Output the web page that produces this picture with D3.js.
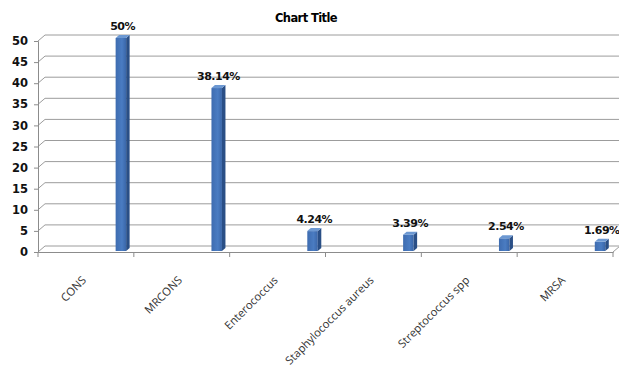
<!DOCTYPE html>
<html>
<head>
<meta charset="utf-8">
<script src="https://cdn.jsdelivr.net/npm/d3@7"></script>
<style>
  body { margin: 0; background: #fff; }
  svg { display: block; }
</style>
</head>
<body>
<div id="chart"></div>
<script>
const categories = ["CONS", "MRCONS", "Enterococcus", "Staphylococcus aureus", "Streptococcus spp", "MRSA"];
const values = [50, 38.14, 4.24, 3.39, 2.54, 1.69];
const valueLabels = ["50%", "38.14%", "4.24%", "3.39%", "2.54%", "1.69%"];
const yTicks = [0, 5, 10, 15, 20, 25, 30, 35, 40, 45, 50];

const W = 619, H = 372;
const depthX = 7, depthY = -6;   // 3d depth of the back wall

const svg = d3.select("#chart")
  .append("svg")
  .attr("width", W)
  .attr("height", H);

const x = d3.scaleBand()
  .domain(categories)
  .range([38, 613])
  .padding(0);

const y = d3.scaleLinear()
  .domain([0, 50])
  .range([252, 41]);

// title
svg.append("text")
  .attr("x", 306)
  .attr("y", 22)
  .attr("text-anchor", "middle")
  .style("font-family", "DejaVu Sans")
  .style("font-weight", "bold")
  .style("font-size", "11.5px")
  .style("letter-spacing", "-0.6px")
  .text("Chart Title");

// gridlines: side wall diagonal + back wall horizontal
const grid = svg.append("g")
  .attr("fill", "none")
  .attr("stroke", "#9c9c9c")
  .attr("stroke-width", 1);

grid.selectAll("path")
  .data(yTicks)
  .enter()
  .append("path")
  .attr("d", d => `M${x.range()[0]},${y(d)}L${x.range()[0] + depthX},${y(d) + depthY}L${W},${y(d) + depthY}`);

// floor right diagonal
grid.append("path")
  .attr("d", `M${x.range()[1]},${y(0)}L${x.range()[1] + depthX},${y(0) + depthY}`);

// y axis
const yAxis = svg.append("g")
  .attr("transform", `translate(${x.range()[0]},0)`)
  .call(d3.axisLeft(y).tickValues(yTicks).tickSize(4).tickPadding(6))
  .call(g => g.selectAll("path, line").attr("stroke", "#8c8c8c"));

yAxis.selectAll(".tick text")
  .style("font-family", "DejaVu Sans")
  .style("font-weight", "bold")
  .style("font-size", "11.5px")
  .style("fill", "#111");

// x axis
const xAxis = svg.append("g")
  .attr("transform", `translate(0,${y(0)})`)
  .call(d3.axisBottom(x).tickSize(0).tickFormat(""))
  .call(g => g.select(".domain").attr("stroke", "#8c8c8c"));

xAxis.selectAll(".bound")
  .data(d3.range(categories.length + 1))
  .enter()
  .append("line")
  .attr("x1", i => x.range()[0] + i * x.bandwidth())
  .attr("x2", i => x.range()[0] + i * x.bandwidth())
  .attr("y1", 0)
  .attr("y2", 5)
  .attr("stroke", "#8c8c8c");

svg.append("g")
  .selectAll("text")
  .data(categories)
  .enter()
  .append("text")
  .attr("transform", d => `translate(${x(d) + x.bandwidth() / 2 + 1},${y(0) + 29}) rotate(-45)`)
  .attr("text-anchor", "end")
  .style("font-family", "Open Sans")
  .style("font-size", "11.2px")
  .style("fill", "#333")
  .text(d => d);

// bars (3d columns)
const barW = 10.5, sideW = 3.5, capH = 3;
const barLeft = d => x(d) + x.bandwidth() * 0.81;
const data = categories.map((c, i) => ({ c, v: values[i], label: valueLabels[i] }));

const defs = svg.append("defs");
const grad = defs.append("linearGradient").attr("id", "front");
grad.append("stop").attr("offset", "0%").attr("stop-color", "#3e6cb0");
grad.append("stop").attr("offset", "60%").attr("stop-color", "#4a7cc2");
grad.append("stop").attr("offset", "100%").attr("stop-color", "#3a66a8");

const bars = svg.append("g")
  .selectAll("g")
  .data(data)
  .enter()
  .append("g");

bars.append("rect")
  .attr("x", d => barLeft(d.c))
  .attr("y", d => y(d.v) - 3)
  .attr("width", barW)
  .attr("height", d => y(0) - 1 - (y(d.v) - 3))
  .attr("fill", "url(#front)");

bars.append("path")
  .attr("d", d => {
    const x0 = barLeft(d.c) + barW, t = y(d.v) - 3, b = y(0) - 1;
    return `M${x0},${t}L${x0 + sideW},${t - capH}L${x0 + sideW},${b - capH}L${x0},${b}Z`;
  })
  .attr("fill", "#2a4f86");

bars.append("path")
  .attr("d", d => {
    const x0 = barLeft(d.c), t = y(d.v) - 3;
    return `M${x0},${t}L${x0 + sideW},${t - capH}L${x0 + barW + sideW},${t - capH}L${x0 + barW},${t}Z`;
  })
  .attr("fill", "#6c98d2");

bars.append("text")
  .attr("x", d => barLeft(d.c) + (barW + sideW) / 2)
  .attr("y", d => y(d.v) - 11)
  .attr("text-anchor", "middle")
  .style("font-family", "DejaVu Sans")
  .style("font-weight", "bold")
  .style("font-size", "11px")
  .style("letter-spacing", "-0.5px")
  .style("fill", "#111")
  .text(d => d.label);
</script>
</body>
</html>
